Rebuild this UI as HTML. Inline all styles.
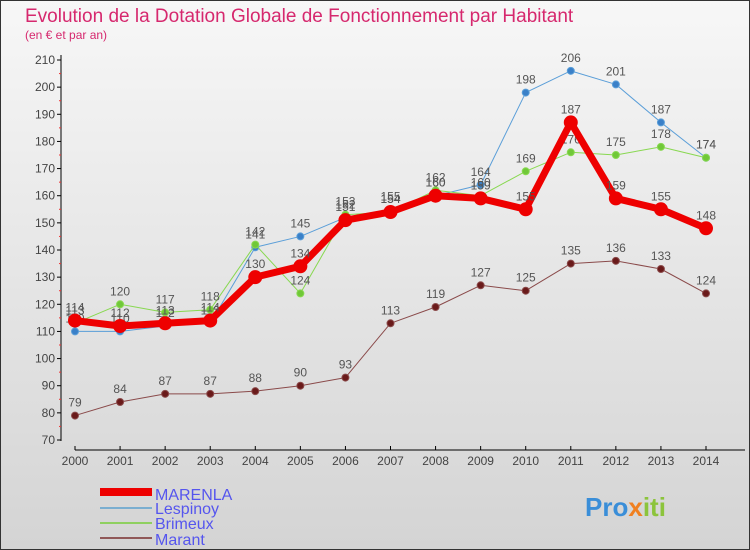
<!DOCTYPE html>
<html><head><meta charset="utf-8"><style>
body{margin:0;width:750px;height:550px;overflow:hidden;font-family:"Liberation Sans",sans-serif}
svg{display:block}
</style></head><body>
<svg id="c" width="750" height="550" xmlns="http://www.w3.org/2000/svg">
<defs><linearGradient id="bg" x1="0" y1="0" x2="0" y2="1"><stop offset="0" stop-color="#f7f7f7"/><stop offset="1" stop-color="#d4d4d4"/></linearGradient></defs>
<rect x="0.5" y="0.5" width="749" height="549" fill="url(#bg)" stroke="#333"/>
<text x="25" y="22" font-size="19" fill="#d6286e">Evolution de la Dotation Globale de Fonctionnement par Habitant</text>
<text x="25" y="39" font-size="12" fill="#d6286e">(en € et par an)</text>
<g id="axes"></g><g id="series"></g>
<g>
<rect x="100" y="488" width="52" height="8" fill="#e00"/>
<text x="155" y="500" font-size="16" fill="#5555ee">MARENLA</text>
<rect x="100" y="507" width="52" height="2" fill="#7aaed0"/>
<text x="155" y="514" font-size="16" fill="#5555ee">Lespinoy</text>
<rect x="100" y="522" width="52" height="2" fill="#8fd060"/>
<text x="155" y="529" font-size="16" fill="#5555ee">Brimeux</text>
<rect x="100" y="537" width="52" height="2" fill="#905858"/>
<text x="155" y="545" font-size="16" fill="#5555ee">Marant</text>
</g>
<text x="585" y="516" font-size="26" font-weight="bold" fill="#3a8ed8">Pro<tspan fill="#f08020">x</tspan><tspan fill="#8cc43c">iti</tspan></text>
</svg>
<script>
const years=[2000,2001,2002,2003,2004,2005,2006,2007,2008,2009,2010,2011,2012,2013,2014];
const marenla=[114,112,113,114,130,134,151,154,160,159,155,187,159,155,148];
const lespinoy=[110,110,112,113,141,145,152,155,160,164,198,206,201,187,174];
const brimeux=[113,120,117,118,142,124,153,154,162,160,169,176,175,178,174];
const marant=[79,84,87,87,88,90,93,113,119,127,125,135,136,133,124];
const yTicks=[70,80,90,100,110,120,130,140,150,160,170,180,190,200,210];
const NS="http://www.w3.org/2000/svg";
const X=i=>75+i*(631/14);
const Y=v=>440-(v-70)*(380/140);
function mk(t,a,p){const e=document.createElementNS(NS,t);for(const k in a)e.setAttribute(k,a[k]);p.appendChild(e);return e;}
const ax=document.getElementById('axes');
let l=mk('line',{x1:61,y1:55,x2:61,y2:441,stroke:'#000','stroke-width':1},ax);


yTicks.forEach(v=>{
 let t=mk('line',{x1:57,y1:Y(v),x2:61,y2:Y(v),stroke:'#000'},ax);
 
 
 if(v<210){let m=mk('line',{x1:59,y1:Y(v+5),x2:61,y2:Y(v+5),stroke:'#e33'},ax);
 
 }
 let tx=mk('text',{x:55,y:Y(v)+4,'font-size':12,fill:'#444','text-anchor':'end'},ax);tx.textContent=v;
 
 
});
l=mk('line',{x1:75,y1:450,x2:745,y2:450,stroke:'#000'},ax);


years.forEach((y,i)=>{
 let t=mk('line',{x1:X(i),y1:446,x2:X(i),y2:450,stroke:'#000'},ax);
 
 
 let tx=mk('text',{x:X(i),y:465,'font-size':12,fill:'#444','text-anchor':'middle'},ax);tx.textContent=y;
 
 
});
const sg=document.getElementById('series');
function draw(vals,name,color,w,r,mfill){
 const g=mk('g',{},sg);
 
 
 let p=mk('polyline',{points:vals.map((v,i)=>X(i)+','+Y(v)).join(' '),fill:'none',stroke:color,'stroke-width':w,'stroke-linejoin':'round'},g);
 
 
 vals.forEach((v,i)=>{
  let c=mk('circle',{cx:X(i),cy:Y(v),r:r,fill:mfill,stroke:color,'stroke-width':1},g);
  
  
  let t=mk('text',{x:X(i),y:Y(v)-9,'font-size':12,fill:'#555','text-anchor':'middle'},g);t.textContent=v;
  
  
 });
}
draw(marant,'marant','#8a4a4a',1,3.5,'#6a1a1a');
draw(lespinoy,'lespinoy','#5a9ed8',1,3.5,'#3a80c8');
draw(brimeux,'brimeux','#88d850',1,3.5,'#70c838');
draw(marenla,'marenla','#ee0000',7,6.5,'#ee0000');
</script>
</body></html>
